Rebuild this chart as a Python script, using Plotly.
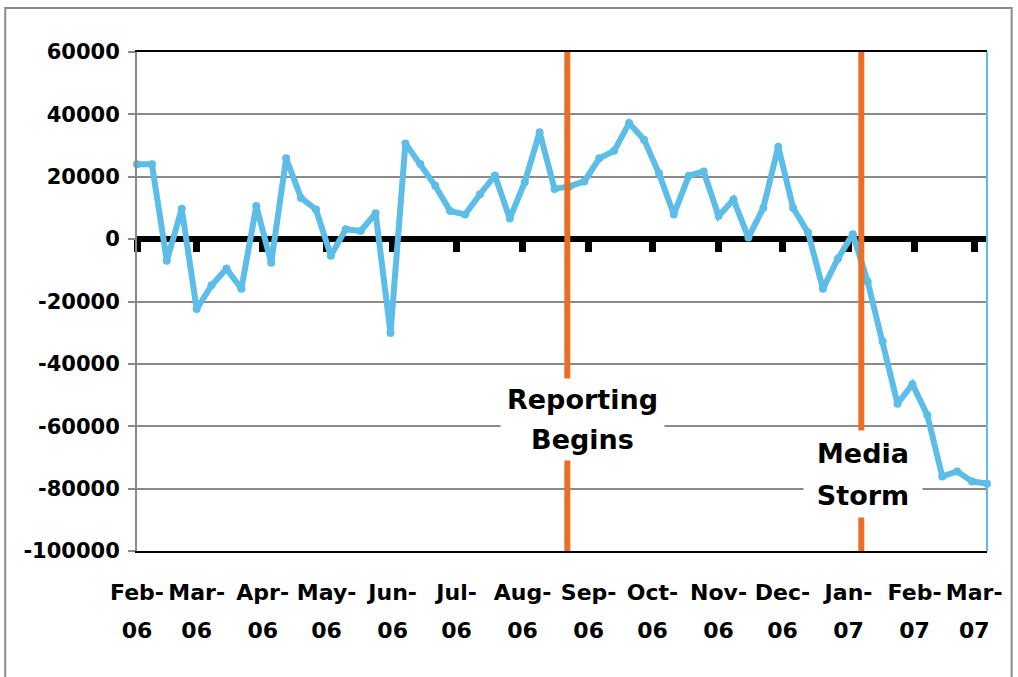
import pandas as pd
import plotly.graph_objects as go

# weekly net change, Feb-06 .. Mar-07
weeks = pd.date_range("2006-02-01", periods=58, freq="7D")
net_change = [24000, 24000, -6900, 9700, -22400, -14800, -9500, -15900, 10600, -7600,
              25900, 13200, 9500, -5300, 3200, 2600, 8300, -30100, 30700, 24100,
              17100, 9000, 7900, 14400, 20400, 6600, 18200, 34300, 16100, 16900,
              18500, 25900, 28300, 37200, 31900, 21100, 7900, 20300, 21700, 7400,
              12700, 500, 10000, 29600, 10000, 2100, -15900, -6300, 1600, -13700,
              -32800, -52800, -46500, -56500, -76100, -74500, -77700, -78400]

month_starts = pd.date_range("2006-02-01", "2007-03-01", freq="MS")
month_names = [d.strftime("%b") + "-" for d in month_starts]
month_years = [d.strftime("%y") for d in month_starts]

y_ticks = [60000, 40000, 20000, 0, -20000, -40000, -60000, -80000, -100000]
y_labels = [str(v) for v in y_ticks]

# event markers and their two-line labels
event_dates = ["2006-08-22", "2007-01-07"]
event_lines = [["Reporting", "Begins"], ["Media", "Storm"]]
label_dates = ["2006-08-29", "2007-01-08"]
label_line_values = [[-51300, -64400], [-68600, -82000]]
label_box = [(163, 41), (118, 44)]

x_range = ["2006-02-01", "2007-03-07"]
y_range = [-100000, 60000]

BLUE = "#5BBDE8"
ORANGE = "#E86F26"
GREY = "#8A8A8A"
ytick_font = dict(family="DejaVu Sans", size=21, color="black", weight="bold")
xtick_font = dict(family="DejaVu Sans", size=22, color="black", weight="bold")

fig = go.Figure()
fig.add_trace(go.Scatter(x=weeks, y=net_change, mode="lines+markers",
                         line=dict(color=BLUE, width=6),
                         marker=dict(color=BLUE, size=8),
                         cliponaxis=False, showlegend=False, hoverinfo="x+y"))

for d in event_dates:
    fig.add_trace(go.Scatter(x=[d, d], y=y_range, mode="lines",
                             line=dict(color=ORANGE, width=6),
                             showlegend=False, hoverinfo="skip"))

# empty traces so the helper axes (zero-line ticks, year row) get drawn
for ax in ["x2", "x3"]:
    fig.add_trace(go.Scatter(x=x_range, y=y_range, mode="none", xaxis=ax,
                             showlegend=False, hoverinfo="skip"))

for d, lines, vals, (w, h) in zip(label_dates, event_lines, label_line_values, label_box):
    for txt, v in zip(lines, vals):
        fig.add_annotation(x=d, y=v, text=txt, showarrow=False, bgcolor="white",
                           width=w, height=h, borderpad=0,
                           font=dict(family="DejaVu Sans", size=27,
                                     color="black", weight="bold"))

fig.update_layout(
    width=1018, height=677,
    margin=dict(l=137, r=31, t=52, b=126),
    paper_bgcolor="white", plot_bgcolor="white",
    xaxis=dict(type="date", range=x_range, tickvals=month_starts, ticktext=month_names,
               tickfont=xtick_font, ticks="", showgrid=False, zeroline=False,
               showline=True, mirror=True, linecolor="black", linewidth=2,
               ticklabelstandoff=21),
    xaxis2=dict(type="date", range=x_range, overlaying="x", anchor="free", position=0.625,
                tickvals=month_starts, showticklabels=False, ticks="outside",
                ticklen=12, tickwidth=7, tickcolor="black", showgrid=False,
                zeroline=False, showline=False, layer="below traces"),
    xaxis3=dict(type="date", range=x_range, overlaying="x", anchor="y", side="bottom",
                tickvals=month_starts, ticktext=month_years, tickfont=xtick_font, ticks="",
                showgrid=False, zeroline=False, showline=False, ticklabelstandoff=64),
    yaxis=dict(range=y_range, tickvals=y_ticks, ticktext=y_labels, tickfont=ytick_font,
               showgrid=True, gridcolor=GREY, gridwidth=2,
               zeroline=True, zerolinecolor="black", zerolinewidth=6,
               showline=True, linecolor=GREY, linewidth=2,
               ticks="outside", ticklen=7, tickwidth=2, tickcolor=GREY,
               ticklabelstandoff=4),
    shapes=[
        dict(type="line", xref="paper", yref="paper", x0=1, x1=1, y0=0, y1=1,
             line=dict(color=BLUE, width=2)),
        dict(type="rect", xref="paper", yref="paper", x0=-0.155, x1=1.029,
             y0=-0.4, y1=1.088, line=dict(color=GREY, width=2), layer="below"),
    ],
)

fig.write_html("out.html", config={"displayModeBar": False},
               post_script="document.body.style.margin = '0';")
